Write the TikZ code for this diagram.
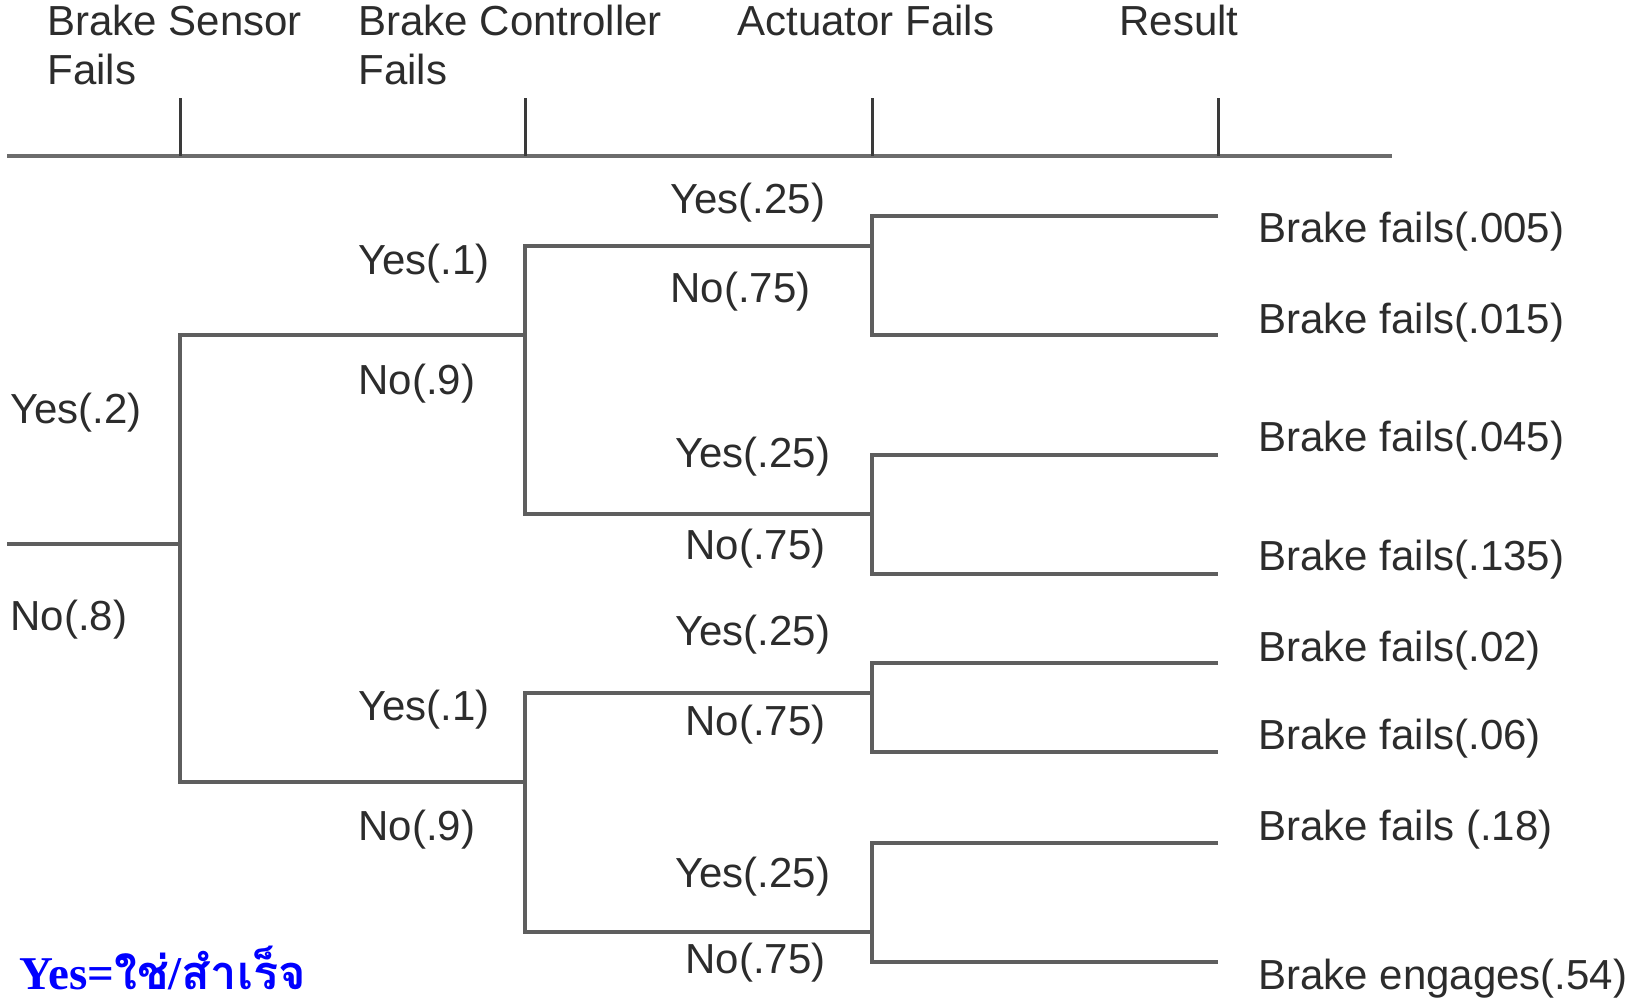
\documentclass[tikz,border=0pt]{standalone}
\usepackage{fontspec}
\setmainfont{Liberation Sans}
\newfontfamily\serifbf{Liberation Serif}
\newfontfamily\thaifont[Script=Thai]{Loma}

\definecolor{linegray}{HTML}{5E5E5E}
\definecolor{axisgray}{HTML}{6C6C6C}
\definecolor{tickgray}{HTML}{3A3A3A}
\definecolor{textgray}{HTML}{2C2C2C}
\definecolor{noteblue}{HTML}{0000FF}

\begin{document}
\begin{tikzpicture}[x=0.5pt,y=-0.5pt]
		\newcommand{\xsens}{180} % sensor column
		\newcommand{\xctrl}{525} % controller column
		\newcommand{\xact}{872}  % actuator column
		\newcommand{\xres}{1218} % end of the leaves
		\newcommand{\xtxt}{1258} % result texts
		\newcommand{\yaxis}{156}

		% set the style of the branches and labels
		\tikzset{
			branch/.style={
				draw=linegray,
				line width=2pt
				},
			axis/.style={draw=axisgray, line width=2pt},
			tick/.style={draw=tickgray, line width=1.5pt},
			lbl/.style={
				anchor=base west,
				inner sep=0pt,
				text=textgray,
				font=\fontsize{21}{25}\selectfont
				}
		}

		\fill[white] (0,0) rectangle (1633,1002);
		\useasboundingbox (0,0) rectangle (1633,1002);

		% column titles
		\node[lbl] (tsens)  at (47,35)   {Brake Sensor};
		\node[lbl] (tsens2) at (47,84)   {Fails};
		\node[lbl] (tctrl)  at (358,35)  {Brake Controller};
		\node[lbl] (tctrl2) at (358,84)  {Fails};
		\node[lbl] (tact)   at (737,35)  {Actuator Fails};
		\node[lbl] (tres)   at (1119,35) {Result};

		% axis with ticks
		\coordinate (ax0) at (7,\yaxis);
		\coordinate (ax1) at (1392,\yaxis);
		\draw[axis] (ax0) -- (ax1);
		\foreach \x in {\xsens,\xctrl,\xact,\xres}
			\draw[tick] (\x,98) -- (\x,\yaxis);

		% sensor
		\coordinate (root) at (7,544);
		\coordinate (sens) at (\xsens,544);
		\coordinate (sy) at (\xsens,335);
		\coordinate (sn) at (\xsens,782);
		\coordinate (cy) at (\xctrl,335);
		\coordinate (cn) at (\xctrl,782);
		\draw[branch] (root) -- (sens);
		\draw[branch] (cy) -- (sy) -- (sn) -- (cn);

		% controller
		\coordinate (cyy) at (\xctrl,246);
		\coordinate (cyn) at (\xctrl,514);
		\coordinate (cny) at (\xctrl,693);
		\coordinate (cnn) at (\xctrl,932);
		\draw[branch] (\xact,246) coordinate (a1) -- (cyy) -- (cyn) -- (\xact,514) coordinate (a2);
		\draw[branch] (\xact,693) coordinate (a3) -- (cny) -- (cnn) -- (\xact,932) coordinate (a4);

		% actuator and leaves
		\foreach \n/\ya/\yb in {1/216/335, 2/455/574, 3/663/752, 4/843/962} {
			\coordinate (ay\n) at (\xact,\ya);
			\coordinate (an\n) at (\xact,\yb);
			\coordinate (ry\n) at (\xres,\ya);
			\coordinate (rn\n) at (\xres,\yb);
			\draw[branch] (ry\n) -- (ay\n) -- (an\n) -- (rn\n);
		}

		% branch probabilities
		\node[lbl] (psy) at (10,423) {Yes(.2)};
		\node[lbl] (psn) at (10,630) {No(.8)};

		\node[lbl] (pcy1) at (358,274) {Yes(.1)};
		\node[lbl] (pcn1) at (358,394) {No(.9)};
		\node[lbl] (pcy2) at (358,720) {Yes(.1)};
		\node[lbl] (pcn2) at (358,840) {No(.9)};

		\node[lbl] (pay1) at (670,213) {Yes(.25)};
		\node[lbl] (pan1) at (670,302) {No(.75)};
		\node[lbl] (pay2) at (675,467) {Yes(.25)};
		\node[lbl] (pan2) at (685,559) {No(.75)};
		\node[lbl] (pay3) at (675,645) {Yes(.25)};
		\node[lbl] (pan3) at (685,735) {No(.75)};
		\node[lbl] (pay4) at (675,887) {Yes(.25)};
		\node[lbl] (pan4) at (685,973) {No(.75)};

		% results
		\node[lbl] (r1) at (\xtxt,242) {Brake fails(.005)};
		\node[lbl] (r2) at (\xtxt,333) {Brake fails(.015)};
		\node[lbl] (r3) at (\xtxt,451) {Brake fails(.045)};
		\node[lbl] (r4) at (\xtxt,570) {Brake fails(.135)};
		\node[lbl] (r5) at (\xtxt,661) {Brake fails(.02)};
		\node[lbl] (r6) at (\xtxt,749) {Brake fails(.06)};
		\node[lbl] (r7) at (\xtxt,840) {Brake fails (.18)};
		\node[lbl] (r8) at (\xtxt,989) {Brake engages(.54)};

		% note
		\node[anchor=base west, inner sep=0pt, text=noteblue,
			font=\fontsize{23.5}{28}\selectfont\bfseries] (note) at (19,989)
			{{\serifbf Yes=}{\thaifont ใช่}{\serifbf /}{\thaifont สำเร็จ}};

\end{tikzpicture}
\end{document}
